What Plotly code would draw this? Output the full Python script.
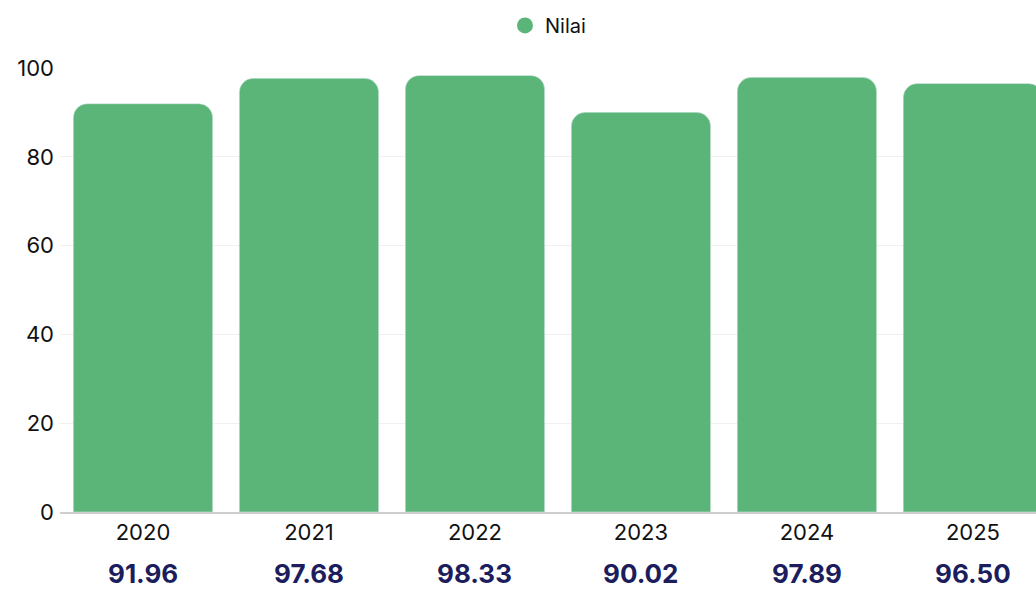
import plotly.graph_objects as go

years = ["2020", "2021", "2022", "2023", "2024", "2025"]
values = [91.96, 97.68, 98.33, 90.02, 97.89, 96.50]
series_name = "Nilai"
y_ticks = [0, 20, 40, 60, 80, 100]

bar_color = "#5cb578"
font_family = "Inter, Lato, sans-serif"

fig = go.Figure()
fig.add_trace(go.Bar(
    x=years, y=values, marker=dict(color=bar_color, cornerradius=14),
    width=0.84, showlegend=False, hoverinfo="skip",
))
fig.add_trace(go.Scatter(
    x=[None], y=[None], mode="markers", name=series_name,
    marker=dict(symbol="circle", size=22, color=bar_color),
))

for i, v in enumerate(values):
    fig.add_annotation(
        x=i, xref="x", y=-0.138, yref="paper", yanchor="middle",
        text=f"<b>{v:.2f}</b>", showarrow=False, borderpad=0,
        font=dict(family=font_family, size=26, color="#1b1d5c"),
    )

fig.update_layout(
    width=1036, height=591,
    margin=dict(l=60, r=0, t=68, b=79),
    paper_bgcolor="white", plot_bgcolor="white",
    font=dict(family=font_family, color="#111111", size=20),
    legend=dict(orientation="h", x=0.5, xanchor="center", y=0.99, yanchor="top",
                yref="container", font=dict(size=20), itemsizing="trace"),
    xaxis=dict(type="category", range=[-0.5, 5.38], showgrid=False, showline=True,
               linecolor="#cfcfcf", linewidth=1.5, ticks="", tickfont=dict(size=22),
               fixedrange=True),
    yaxis=dict(range=[0, 100], tickvals=y_ticks, showgrid=True, gridcolor="#f0f0f0",
               zeroline=False, ticks="", tickfont=dict(size=22), ticklabelstandoff=5),
)

fig.write_html("out.html")
